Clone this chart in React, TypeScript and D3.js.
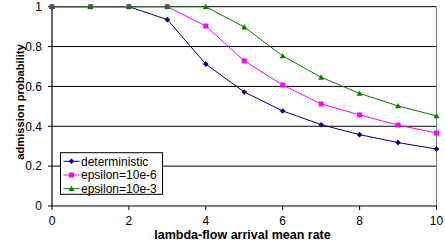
import React from "react";
import * as d3 from "d3";

const xValues = [0, 1, 2, 3, 4, 5, 6, 7, 8, 9, 10];
const deterministic = [1, 1, 1, 0.935, 0.712, 0.572, 0.477, 0.408, 0.358, 0.318, 0.286];
const eps6 = [1, 1, 1, 1, 0.903, 0.728, 0.607, 0.512, 0.457, 0.406, 0.366];
const eps3 = [1, 1, 1, 1, 1, 0.898, 0.753, 0.646, 0.565, 0.502, 0.452];
const xTicks = [0, 2, 4, 6, 8, 10];
const yTicks = [0, 0.2, 0.4, 0.6, 0.8, 1];
const seriesNames = ["deterministic", "epsilon=10e-6", "epsilon=10e-3"];

const W = 445, H = 248;
const left = 52, right = 436.5, top = 6.7, bottom = 206;
const font = "Liberation Sans, Arial, sans-serif";

function Marker({ kind, x, y, color }: { kind: string; x: number; y: number; color: string }) {
  if (kind === "diamond") {
    const s = 2.8;
    return <path d={`M${x},${y - s}L${x + s},${y}L${x},${y + s}L${x - s},${y}Z`} fill={color} />;
  }
  if (kind === "square") {
    const s = 2.5;
    return <rect x={x - s} y={y - s} width={2 * s} height={2 * s} fill={color} />;
  }
  const s = 3;
  return <path d={`M${x},${y - s}L${x + s},${y + s * 0.8}L${x - s},${y + s * 0.8}Z`} fill={color} />;
}

export default function App() {
  const x = d3.scaleLinear().domain([0, 10]).range([left, right]);
  const y = d3.scaleLinear().domain([0, 1]).range([bottom, top]);
  const series = [
    { name: seriesNames[0], data: deterministic, color: "#000080", kind: "diamond" },
    { name: seriesNames[1], data: eps6, color: "#FF00FF", kind: "square" },
    { name: seriesNames[2], data: eps3, color: "#008000", kind: "triangle" },
  ];
  const line = d3
    .line<number>()
    .x((_, i) => x(xValues[i]))
    .y((d) => y(d));

  const legX = 60.5, legY = 152.7, legW = 102, legH = 41.6;
  return (
    <svg width={W} height={H} style={{ position: "absolute", left: 0, top: 0 }}>
      <rect width={W} height={H} fill="#fff" />
      {yTicks.filter((t) => t > 0).map((t) => (
        <line key={t} x1={left} x2={right} y1={y(t)} y2={y(t)} stroke="#000" strokeWidth={1} />
      ))}
      <line x1={right} x2={right} y1={top} y2={bottom} stroke="#808080" strokeWidth={1} />
      <line x1={left} x2={left} y1={top} y2={bottom} stroke="#000" strokeWidth={1.2} />
      <line x1={left} x2={right} y1={bottom} y2={bottom} stroke="#000" strokeWidth={1.2} />
      {yTicks.map((t) => (
        <g key={t}>
          <line x1={left - 4} x2={left} y1={y(t)} y2={y(t)} stroke="#000" />
          <text x={left - 10} y={y(t) + 4.3} textAnchor="end" fontFamily={font} fontSize={12}>
            {t === 0 || t === 1 ? String(t) : t.toFixed(1)}
          </text>
        </g>
      ))}
      {xTicks.map((t) => (
        <g key={t}>
          <line x1={x(t)} x2={x(t)} y1={bottom} y2={bottom + 4} stroke="#000" />
          <text x={x(t)} y={bottom + 19} textAnchor="middle" fontFamily={font} fontSize={12}>
            {t}
          </text>
        </g>
      ))}
      {series.map((s) => (
        <g key={s.name}>
          <path d={line(s.data) || ""} fill="none" stroke={s.color} strokeWidth={1} />
          {s.data.map((v, i) => (
            <Marker key={i} kind={s.kind} x={x(xValues[i])} y={y(v)} color={s.color} />
          ))}
        </g>
      ))}
      <text x={242.5} y={238.5} textAnchor="middle" fontFamily={font} fontSize={12.5} fontWeight="bold">
        lambda-flow arrival mean rate
      </text>
      <text
        transform={`translate(24,102) rotate(-90)`}
        textAnchor="middle"
        fontFamily={font}
        fontSize={11.2}
        fontWeight="bold"
      >
        admission probability
      </text>
      <rect x={legX} y={legY} width={legW} height={legH} fill="#fff" stroke="#000" strokeWidth={1} />
      {series.map((s, i) => {
        const cy = legY + 8.6 + i * 13.7;
        return (
          <g key={s.name}>
            <line x1={legX + 3} x2={legX + 19} y1={cy} y2={cy} stroke={s.color} />
            <Marker kind={s.kind} x={legX + 11} y={cy} color={s.color} />
            <text x={legX + 20.5} y={cy + 4.3} fontFamily={font} fontSize={12}>
              {s.name}
            </text>
          </g>
        );
      })}
    </svg>
  );
}
